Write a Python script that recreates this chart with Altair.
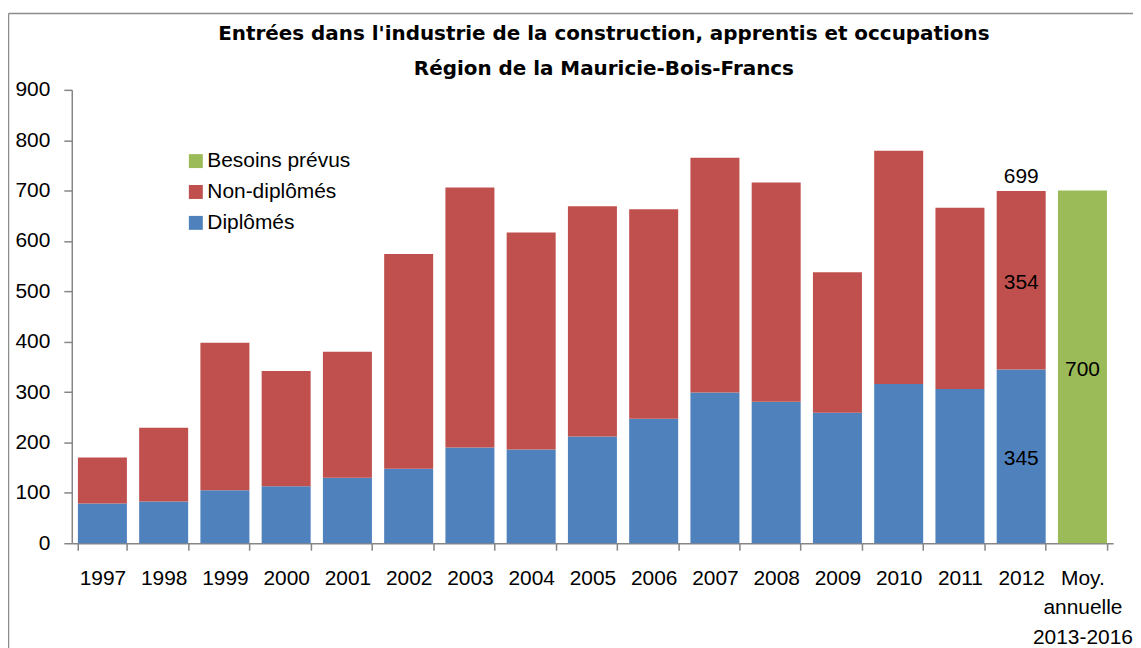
import altair as alt
import pandas as pd

# ---- data ----
years = ["1997", "1998", "1999", "2000", "2001", "2002", "2003", "2004",
         "2005", "2006", "2007", "2008", "2009", "2010", "2011", "2012"]
diplomes = [79, 83, 105, 113, 130, 148, 190, 186, 212, 247, 299, 281, 259, 316, 306, 345]
non_diplomes = [91, 146, 293, 229, 250, 426, 516, 431, 457, 416, 466, 435, 279, 463, 360, 354]
moy_cat = "Moy. annuelle 2013-2016"
besoins_prevus = [700]

series_order = ["Besoins prévus", "Non-diplômés", "Diplômés"]
series_colors = ["#9BBB59", "#C0504D", "#4F81BD"]
stack_rank = {"Diplômés": 0, "Non-diplômés": 1, "Besoins prévus": 0}

title_lines = ["Entrées dans l'industrie de la construction, apprentis et occupations",
               "Région de la Mauricie-Bois-Francs"]

categories = years + [moy_cat]

rows = []
for y, d, n in zip(years, diplomes, non_diplomes):
    rows.append({"cat": y, "series": "Diplômés", "value": d})
    rows.append({"cat": y, "series": "Non-diplômés", "value": n})
rows.append({"cat": moy_cat, "series": "Besoins prévus", "value": besoins_prevus[0]})
df = pd.DataFrame(rows)
df["ord"] = df["series"].map(stack_rank)

# labels (2012 and average)
d12, n12 = diplomes[-1], non_diplomes[-1]
inside = pd.DataFrame({
    "cat": ["2012", "2012", moy_cat],
    "txt": [str(d12), str(n12), str(besoins_prevus[0])],
    "ypos": [d12 / 2, d12 + n12 / 2, besoins_prevus[0] / 2],
})
top = pd.DataFrame({"cat": ["2012"], "txt": [str(d12 + n12)], "ypos": [d12 + n12]})

FONT = "Liberation Sans"
TITLE_FONT = "DejaVu Sans"
W, H = 1045, 455

xscale = alt.Scale(domain=categories, paddingInner=0.2, paddingOuter=0.1)
yscale = alt.Scale(domain=[0, 900], nice=False)

bars = alt.Chart(df).mark_bar().encode(
    x=alt.X("cat:N", sort=categories, scale=xscale,
            axis=alt.Axis(title=None, labelAngle=0, tickBand="extent",
                          labelExpr="datum.value == 'Moy. annuelle 2013-2016' ? ['Moy.', 'annuelle', '2013-2016'] : datum.label",
                          labelLineHeight=30, labelPadding=17, tickSize=7, labelBaseline="top")),
    y=alt.Y("value:Q", stack="zero", scale=yscale,
            axis=alt.Axis(title=None, values=list(range(0, 901, 100)), grid=False,
                          tickSize=8, labelPadding=14)),
    color=alt.Color("series:N", scale=alt.Scale(domain=series_order, range=series_colors),
                    legend=alt.Legend(title=None, orient="none", legendX=114, legendY=61,
                                      symbolType="square", symbolSize=196, symbolStrokeWidth=0,
                                      labelFont=FONT, labelFontSize=21, labelColor="black",
                                      labelOffset=1, rowPadding=9, padding=0)),
    order=alt.Order("ord:Q"),
)

txt_inside = alt.Chart(inside).mark_text(font=FONT, fontSize=21, color="black",
                                         baseline="middle", dy=3).encode(
    x=alt.X("cat:N", sort=categories, scale=xscale),
    y=alt.Y("ypos:Q", scale=yscale),
    text="txt:N",
)
txt_top = alt.Chart(top).mark_text(font=FONT, fontSize=21, color="black",
                                   baseline="middle", dy=-14).encode(
    x=alt.X("cat:N", sort=categories, scale=xscale),
    y=alt.Y("ypos:Q", scale=yscale),
    text="txt:N",
)

# chart title as text marks (placed in the top padding)
title_df = pd.DataFrame({"line": title_lines, "i": [0, 1]})
title_l1 = alt.Chart(title_df.iloc[[0]]).mark_text(
    font=TITLE_FONT, fontSize=20, fontWeight="bold", color="black", baseline="middle", align="center"
).encode(x=alt.value(534), y=alt.value(-56), text="line:N")
title_l2 = alt.Chart(title_df.iloc[[1]]).mark_text(
    font=TITLE_FONT, fontSize=20, fontWeight="bold", color="black", baseline="middle", align="center"
).encode(x=alt.value(534), y=alt.value(-21), text="line:N")

frame = pd.DataFrame({"k": [0]})
left_border = alt.Chart(frame).mark_rule(color="#8C8C8C", strokeWidth=1.5).encode(
    x=alt.value(-63.5), y=alt.value(-76.5), y2=alt.value(H + 120))
top_border = alt.Chart(frame).mark_rule(color="#8C8C8C", strokeWidth=1.5).encode(
    x=alt.value(-63.5), x2=alt.value(W + 120), y=alt.value(-76.5))

chart = alt.layer(left_border, top_border, bars, txt_inside, txt_top, title_l1, title_l2).properties(
    width=W, height=H,
    autosize=alt.AutoSizeParams(type="none"),
    padding={"left": 64, "top": 81, "right": 20, "bottom": 104},
).configure_view(stroke=None).configure_axis(
    labelFont=FONT, labelFontSize=21, labelColor="black",
    domainColor="#868686", tickColor="#868686", domainWidth=1.5, tickWidth=1.5,
)

chart.save("out.html", embed_options={"renderer": "svg", "actions": False})
